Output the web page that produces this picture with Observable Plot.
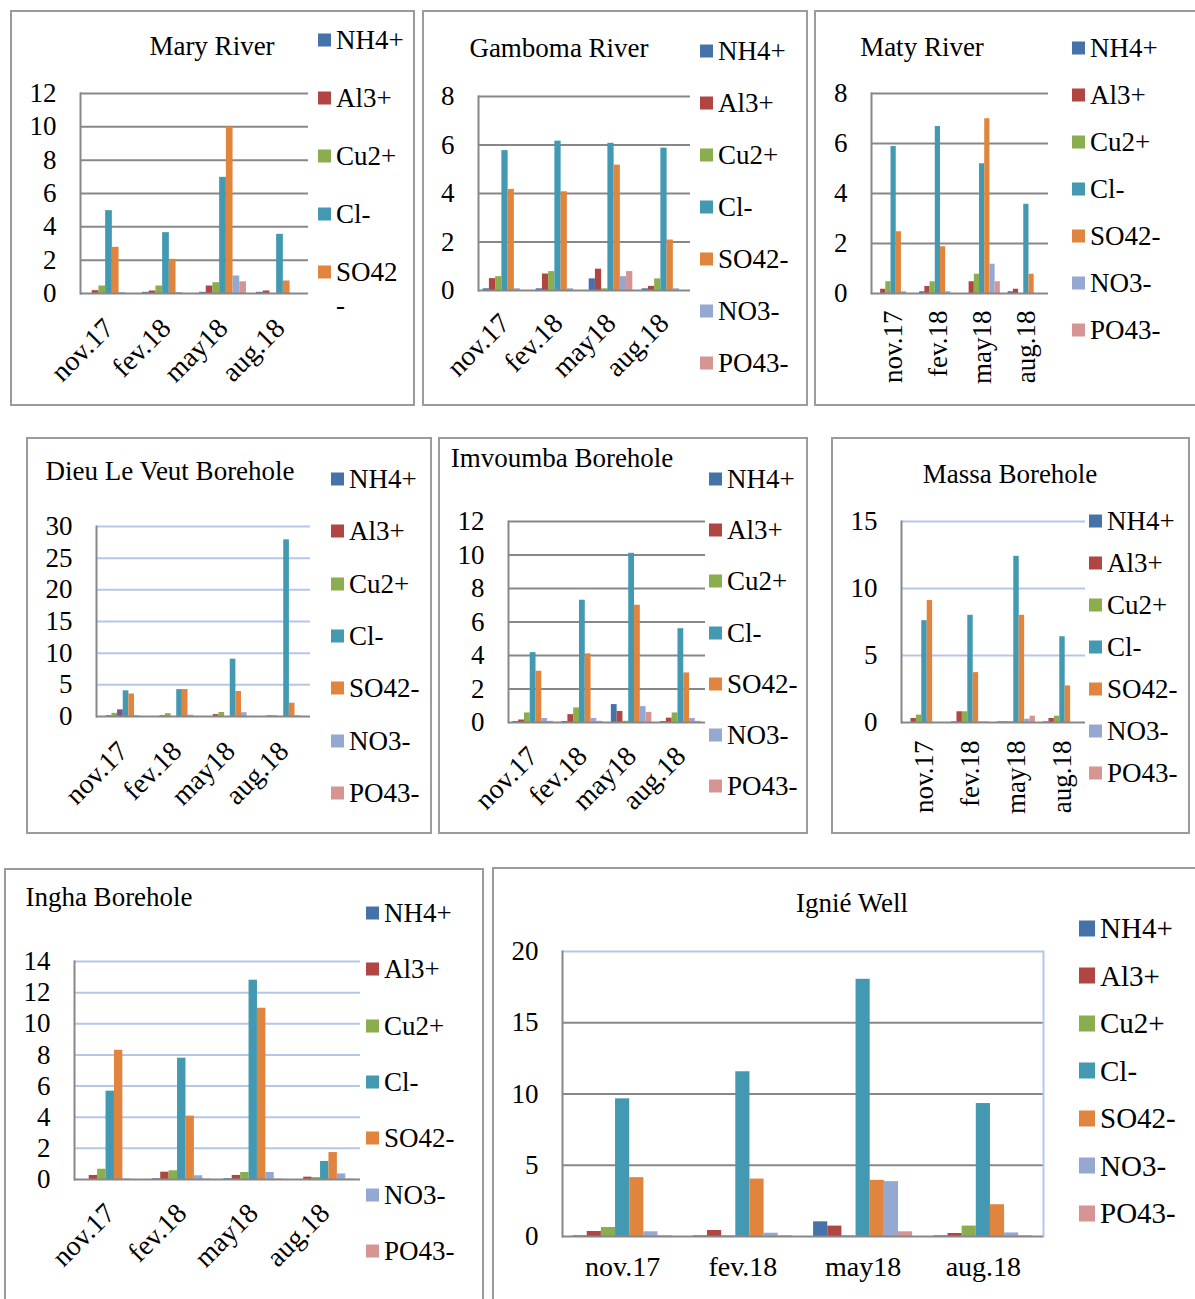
<!DOCTYPE html>
<html><head><meta charset="utf-8">
<script src="https://cdn.jsdelivr.net/npm/d3@7"></script>
<script src="https://cdn.jsdelivr.net/npm/@observablehq/plot@0.6"></script>
<style>
html,body{margin:0;padding:0;background:#fff;}
body{width:1195px;height:1299px;overflow:hidden;position:relative;font-family:"Liberation Serif","Times New Roman",serif;color:#000;}
.panel{position:absolute;border:2px solid #9b9b9b;box-sizing:border-box;}
.title{position:absolute;transform:translate(-50%,-50%);white-space:nowrap;line-height:1;}
.leg{position:absolute;display:flex;align-items:center;white-space:nowrap;transform:translateY(-50%);line-height:1;}
.sw{display:inline-block;margin-right:5px;}
.plot{position:absolute;}
</style>
</head><body>
<script>
// ---------- data ----------
const categories = ["nov.17", "fev.18", "may18", "aug.18"];
const ions = ["NH4+", "Al3+", "Cu2+", "Cl-", "SO42-", "NO3-", "PO43-"];
const ionsDieu = ["NH4+", "Al3+", "Cu2+", "(unlabelled)", "Cl-", "SO42-", "NO3-", "PO43-"];

// rows follow the ion order, columns follow the categories
const maryRiver = [
  [0.00, 0.07, 0.07, 0.07],
  [0.17, 0.15, 0.45, 0.15],
  [0.45, 0.45, 0.65, 0.00],
  [4.97, 3.65, 6.97, 3.55],
  [2.77, 2.05, 10.0, 0.75],
  [0.05, 0.05, 1.05, 0.00],
  [0.00, 0.00, 0.70, 0.00]
];
const gambomaRiver = [
  [0.07, 0.07, 0.48, 0.07],
  [0.49, 0.68, 0.88, 0.17],
  [0.57, 0.78, 0.07, 0.48],
  [5.77, 6.16, 6.07, 5.87],
  [4.17, 4.07, 5.17, 2.08],
  [0.07, 0.07, 0.57, 0.07],
  [0.00, 0.00, 0.78, 0.00]
];
const matyRiver = [
  [0.00, 0.07, 0.00, 0.07],
  [0.17, 0.28, 0.47, 0.17],
  [0.47, 0.47, 0.77, 0.00],
  [5.88, 6.68, 5.19, 3.57],
  [2.47, 1.87, 6.99, 0.77],
  [0.07, 0.07, 1.17, 0.00],
  [0.00, 0.00, 0.47, 0.00]
];
const dieuLeVeut = [
  [0.00, 0.00, 0.00, 0.00],
  [0.12, 0.12, 0.30, 0.10],
  [0.50, 0.45, 0.63, 0.10],
  [1.05, 0.00, 0.00, 0.00],
  [4.05, 4.25, 9.05, 27.9],
  [3.55, 4.25, 3.95, 2.10],
  [0.12, 0.20, 0.60, 0.12],
  [0.00, 0.00, 0.00, 0.00]
];
const imvoumba = [
  [0.06, 0.06, 1.07, 0.06],
  [0.15, 0.47, 0.66, 0.26],
  [0.57, 0.87, 0.07, 0.57],
  [4.17, 7.30, 10.1, 5.60],
  [3.06, 4.10, 7.00, 2.96],
  [0.24, 0.24, 0.95, 0.24],
  [0.07, 0.07, 0.60, 0.07]
];
const massa = [
  [0.00, 0.05, 0.05, 0.05],
  [0.30, 0.80, 0.05, 0.30],
  [0.55, 0.80, 0.05, 0.47],
  [7.60, 8.00, 12.4, 6.40],
  [9.10, 3.72, 8.00, 2.73],
  [0.00, 0.05, 0.25, 0.00],
  [0.00, 0.05, 0.47, 0.00]
];
const ingha = [
  [0.00, 0.05, 0.05, 0.00],
  [0.26, 0.47, 0.26, 0.15],
  [0.66, 0.56, 0.45, 0.12],
  [5.67, 7.79, 12.8, 1.16],
  [8.30, 4.07, 11.0, 1.73],
  [0.03, 0.24, 0.45, 0.36],
  [0.00, 0.03, 0.03, 0.03]
];
const ignieWell = [
  [0.05, 0.05, 1.03, 0.05],
  [0.35, 0.42, 0.73, 0.21],
  [0.63, 0.05, 0.05, 0.73],
  [9.66, 11.56, 18.05, 9.33],
  [4.13, 4.03, 3.94, 2.23],
  [0.33, 0.23, 3.85, 0.25],
  [0.05, 0.05, 0.33, 0.05]
];

const ticksMary = [0, 2, 4, 6, 8, 10, 12];
const ticksGamboma = [0, 2, 4, 6, 8];
const ticksMaty = [0, 2, 4, 6, 8];
const ticksDieu = [0, 5, 10, 15, 20, 25, 30];
const ticksImvoumba = [0, 2, 4, 6, 8, 10, 12];
const ticksMassa = [0, 5, 10, 15];
const ticksIngha = [0, 2, 4, 6, 8, 10, 12, 14];
const ticksIgnie = [0, 5, 10, 15, 20];

// ---------- style ----------
const colors = {
  "NH4+": "#4672AA", "Al3+": "#B04542", "Cu2+": "#8AAE4D", "(unlabelled)": "#735696",
  "Cl-": "#4299B1", "SO42-": "#E0843E", "NO3-": "#95A8D1", "PO43-": "#D69493"
};
const GRAY = "#878787", LBLUE = "#B4C7E7";

const panels = [
  {title: "Mary River", data: maryRiver, series: ions, ticks: ticksMary,
   box: [10, 10, 415, 406], plot: [80, 93, 308, 293], titleAt: [212, 46],
   legend: {x: 318, y0: 40, dy: 58, n: 5, size: 27, sw: 13, wrapLast: true},
   rotate: -45, xPad: 30, xFont: 28, grid: GRAY, top: GRAY},
  {title: "Gamboma River", data: gambomaRiver, series: ions, ticks: ticksGamboma,
   box: [422, 10, 808, 406], plot: [478, 96, 690, 290], titleAt: [559, 48],
   legend: {x: 700, y0: 51, dy: 52, n: 7, size: 27, sw: 13},
   rotate: -45, xPad: 28, xFont: 28, grid: GRAY, top: GRAY},
  {title: "Maty River", data: matyRiver, series: ions, ticks: ticksMaty,
   box: [814, 10, 1200, 406], plot: [871, 93, 1048, 293], titleAt: [922, 47],
   legend: {x: 1072, y0: 48, dy: 47, n: 7, size: 27, sw: 13},
   rotate: -90, xPad: 17, xFont: 27, grid: GRAY, top: GRAY},
  {title: "Dieu Le Veut Borehole", data: dieuLeVeut, series: ionsDieu, ticks: ticksDieu,
   box: [26, 437, 432, 834], plot: [96, 526, 310, 716], titleAt: [170, 471],
   legend: {x: 331, y0: 479, dy: 52.3, n: 7, size: 27, sw: 13},
   rotate: -45, xPad: 30, xFont: 28, grid: LBLUE, top: LBLUE},
  {title: "Imvoumba Borehole", data: imvoumba, series: ions, ticks: ticksImvoumba,
   box: [438, 437, 808, 834], plot: [508, 521, 705, 722], titleAt: [562, 458],
   legend: {x: 709, y0: 479, dy: 51.2, n: 7, size: 27, sw: 13},
   rotate: -45, xPad: 29, xFont: 28, grid: GRAY, top: GRAY},
  {title: "Massa Borehole", data: massa, series: ions, ticks: ticksMassa,
   box: [831, 437, 1190, 834], plot: [901, 521, 1085, 722], titleAt: [1010, 474],
   legend: {x: 1089, y0: 521, dy: 42, n: 7, size: 27, sw: 13},
   rotate: -90, xPad: 18, xFont: 27, grid: LBLUE, top: LBLUE},
  {title: "Ingha Borehole", data: ingha, series: ions, ticks: ticksIngha,
   box: [4, 868, 484, 1305], plot: [74, 961, 360, 1179], titleAt: [109, 897],
   legend: {x: 366, y0: 913, dy: 56.3, n: 7, size: 27, sw: 13},
   rotate: -45, xPad: 29, xFont: 28, grid: LBLUE, top: LBLUE},
  {title: "Ignié Well", data: ignieWell, series: ions, ticks: ticksIgnie,
   box: [492, 867, 1200, 1305], plot: [562, 951, 1043, 1236], titleAt: [852, 903],
   legend: {x: 1079, y0: 928, dy: 47.5, n: 7, size: 29, sw: 16},
   rotate: 0, xPad: 20, xFont: 28, grid: GRAY, top: LBLUE, rightFrame: LBLUE}
];

function el(tag, cls, css, text) {
  const e = document.createElement(tag);
  if (cls) e.className = cls;
  Object.assign(e.style, css || {});
  if (text != null) e.textContent = text;
  document.body.appendChild(e);
  return e;
}

function drawPanel(p) {
  const [bx0, by0, bx1, by1] = p.box;
  const [pl, pt, pr, pb] = p.plot;
  el("div", "panel", {left: bx0 + "px", top: by0 + "px", width: (bx1 - bx0) + "px", height: (by1 - by0) + "px"});

  const rows = [];
  p.series.forEach((s, si) => categories.forEach((c, ci) =>
    rows.push({series: s, cat: c, value: p.data[si][ci]})));

  const band = (pr - pl) / categories.length;
  const slot = band / (p.series.length + 1.5);
  const ymax = d3.max(p.ticks);
  const marks = [];
  marks.push(Plot.ruleY(p.ticks.filter(t => t > 0 && t < ymax), {stroke: p.grid, strokeWidth: 2}));
  marks.push(Plot.ruleY([ymax], {stroke: p.top, strokeWidth: 2}));
  if (p.rightFrame) marks.push(Plot.frame({anchor: "right", stroke: p.rightFrame, strokeWidth: 2}));
  p.series.forEach((s, si) => {
    const left = (0.75 + si) * slot;
    marks.push(Plot.barY(rows.filter(r => r.series === s), {
      x: "cat", y: "value", fill: colors[s],
      insetLeft: left, insetRight: band - left - slot
    }));
  });
  marks.push(Plot.ruleY([0], {stroke: GRAY, strokeWidth: 2}));
  marks.push(Plot.frame({anchor: "left", stroke: GRAY, strokeWidth: 2}));
  marks.push(Plot.axisY({ticks: p.ticks, tickSize: 0, tickPadding: 24, label: null,
    tickFormat: d => String(d), fontSize: 27}));
  marks.push(Plot.axisX({tickSize: 0, tickPadding: p.xPad, tickRotate: p.rotate, label: null,
    fontSize: p.xFont}));

  const svg = Plot.plot({
    width: bx1 - bx0, height: by1 - by0,
    marginLeft: pl - bx0, marginRight: bx1 - pr, marginTop: pt - by0, marginBottom: by1 - pb,
    x: {domain: categories, padding: 0, round: false, label: null},
    y: {domain: [0, ymax], label: null},
    style: {fontFamily: "'Liberation Serif', 'Times New Roman', serif", fontSize: "27px",
            background: "transparent", overflow: "visible", color: "#000"},
    marks
  });
  svg.classList.add("plot");
  svg.style.left = bx0 + "px";
  svg.style.top = by0 + "px";
  svg.style.position = "absolute";
  document.body.appendChild(svg);

  el("div", "title", {left: p.titleAt[0] + "px", top: p.titleAt[1] + "px", fontSize: "27px"}, p.title);

  const L = p.legend;
  const names = p.series.filter(s => s !== "(unlabelled)").slice(0, L.n);
  names.forEach((s, i) => {
    const y = L.y0 + L.dy * i;
    const row = el("div", "leg", {left: L.x + "px", top: y + "px", fontSize: L.size + "px"});
    const sw = document.createElement("span");
    sw.className = "sw";
    Object.assign(sw.style, {width: L.sw + "px", height: L.sw + "px", background: colors[s]});
    row.appendChild(sw);
    const t = document.createElement("span");
    const wrap = L.wrapLast && i === L.n - 1;
    t.textContent = wrap ? s.slice(0, -1) : s;
    row.appendChild(t);
    if (wrap) {
      el("div", "leg", {left: (L.x + L.sw + 5) + "px", top: (y + 33) + "px", fontSize: L.size + "px"}, s.slice(-1));
    }
  });
}

panels.forEach(drawPanel);
</script>
</body></html>
